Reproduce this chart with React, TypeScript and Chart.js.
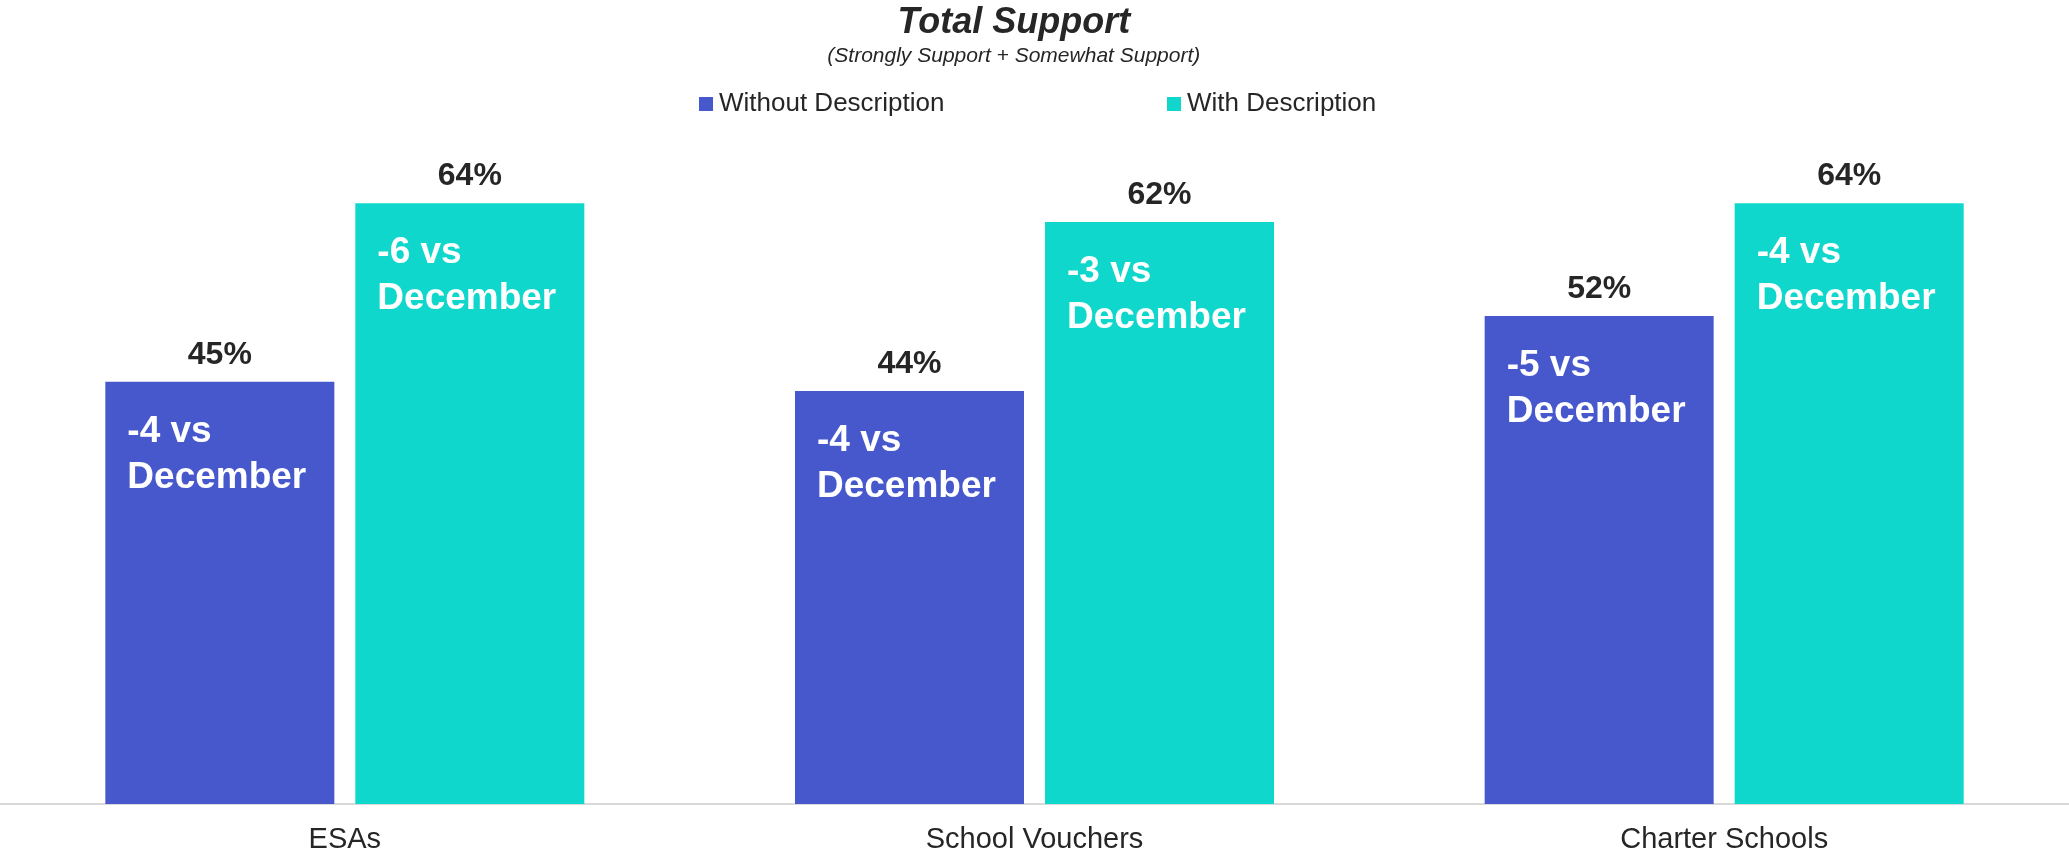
import React, { useEffect, useRef } from "react";
import { Chart, registerables } from "chart.js";

Chart.register(...registerables);

const categories = ["ESAs", "School Vouchers", "Charter Schools"];
const seriesNames = ["Without Description", "With Description"];
const withoutValues = [45, 44, 52];
const withValues = [64, 62, 64];
const withoutChange = [-4, -4, -5];
const withChange = [-6, -3, -4];
const comparisonLabel = "December";
const titleText = "Total Support";
const subtitleText = "(Strongly Support + Somewhat Support)";
const seriesColors = ["#4758CD", "#10D7CC"];

const FONT = '"Liberation Sans", Arial, sans-serif';
const TEXT_DARK = "#262626";

const changes = [withoutChange, withChange];

const annotatePlugin = {
  id: "annotate",
  afterDatasetsDraw(chart: any) {
    const ctx = chart.ctx;
    ctx.save();
    chart.data.datasets.forEach((ds: any, di: number) => {
      const meta = chart.getDatasetMeta(di);
      meta.data.forEach((bar: any, i: number) => {
        const v = ds.data[i];
        // value label above bar
        ctx.font = `bold 32px ${FONT}`;
        ctx.fillStyle = TEXT_DARK;
        ctx.textAlign = "center";
        ctx.textBaseline = "alphabetic";
        ctx.fillText(`${v}%`, bar.x, bar.y - 18);
        // change label inside bar
        const left = bar.x - bar.width / 2 + 22;
        ctx.font = `bold 37px ${FONT}`;
        ctx.fillStyle = "#FFFFFF";
        ctx.textAlign = "left";
        ctx.fillText(`${changes[di][i]} vs`, left, bar.y + 60);
        ctx.fillText(comparisonLabel, left, bar.y + 106);
      });
    });
    ctx.restore();
  },
  afterDraw(chart: any) {
    const ctx = chart.ctx;
    const cx = chart.width * 0.49;
    ctx.save();
    ctx.fillStyle = TEXT_DARK;
    ctx.textAlign = "center";
    ctx.textBaseline = "alphabetic";
    ctx.font = `italic bold 36px ${FONT}`;
    ctx.fillText(titleText, cx, 33);
    ctx.font = `italic 21px ${FONT}`;
    ctx.fillText(subtitleText, cx, 62);
    // legend
    const legendX = [699, 1167];
    ctx.font = `26px ${FONT}`;
    ctx.textAlign = "left";
    seriesNames.forEach((name, i) => {
      ctx.fillStyle = seriesColors[i];
      ctx.fillRect(legendX[i], 97, 14, 14);
      ctx.fillStyle = TEXT_DARK;
      ctx.fillText(name, legendX[i] + 20, 111);
    });
    ctx.restore();
  },
};

export default function App() {
  const canvasRef = useRef<HTMLCanvasElement | null>(null);

  useEffect(() => {
    document.body.style.margin = "0";
    const canvas = canvasRef.current;
    if (!canvas) return;
    const chart = new Chart(canvas, {
      type: "bar",
      data: {
        labels: categories,
        datasets: [
          {
            label: seriesNames[0],
            data: withoutValues,
            backgroundColor: seriesColors[0],
            categoryPercentage: 0.725,
            barPercentage: 0.916,
          },
          {
            label: seriesNames[1],
            data: withValues,
            backgroundColor: seriesColors[1],
            categoryPercentage: 0.725,
            barPercentage: 0.916,
          },
        ],
      },
      options: {
        animation: false,
        responsive: false,
        devicePixelRatio: 1,
        layout: { padding: { top: 147, bottom: 0, left: 0, right: 0 } },
        plugins: {
          legend: { display: false },
          title: { display: false },
          tooltip: { enabled: false },
        },
        scales: {
          x: {
            grid: { display: false, drawTicks: false },
            border: { display: true, color: "#D9D9D9", width: 2 },
            ticks: {
              color: TEXT_DARK,
              font: { family: FONT, size: 29 },
              padding: 19,
            },
            afterFit: (scale: any) => {
              scale.height = 51;
            },
          },
          y: {
            display: false,
            min: 0,
            max: 70,
          },
        },
      },
      plugins: [annotatePlugin],
    });
    return () => chart.destroy();
  }, []);

  return (
    <div style={{ position: "absolute", left: 0, top: 0, width: 2069, height: 855 }}>
      <canvas ref={canvasRef} width={2069} height={855} />
    </div>
  );
}
